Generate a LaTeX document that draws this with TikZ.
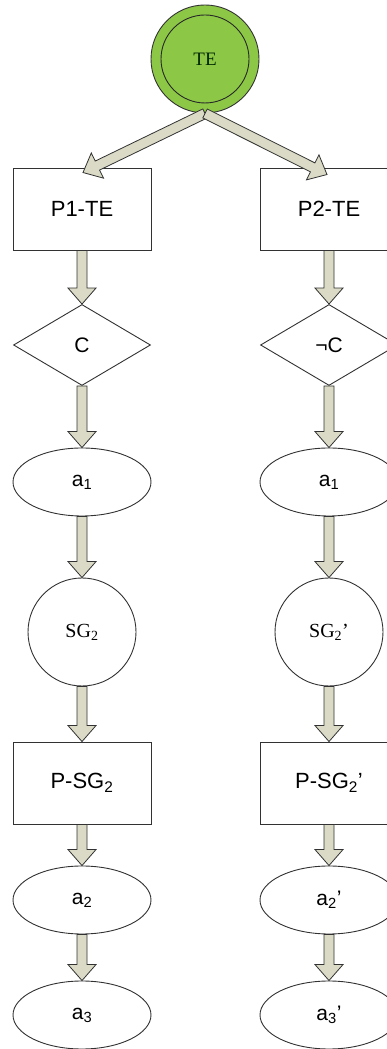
\documentclass[tikz,border=0pt]{standalone}
\usepackage{fontspec}
\setmainfont{Liberation Serif}
\setsansfont{Liberation Sans}
\usetikzlibrary{shapes.geometric,calc}
\definecolor{tegreen}{RGB}{140,200,70}
\definecolor{arrfill}{RGB}{218,218,198}
\definecolor{edgec}{RGB}{50,50,50}
\newcommand\blockarrow[2]{%
  \path[blockarr] let \p1=(#1), \p2=(#2),
    \n1={atan2(\y2-\y1,\x2-\x1)}, \n2={veclen(\x2-\x1,\y2-\y1)} in
    [shift={(\p1)}, rotate=\n1]
    (0,5) -- ({\n2-16},5) -- ({\n2-16},14) -- (\n2,0) -- ({\n2-16},-14)
    -- ({\n2-16},-5) -- (0,-5) -- cycle;}
\begin{document}
\begin{tikzpicture}[x=1pt,y=1pt,
  every node/.style={inner sep=0pt},
  boxnode/.style={draw=edgec, line width=0.9pt, fill=white, rectangle,
    minimum width=138pt, minimum height=82pt,
    font=\sffamily\fontsize{22}{26}\selectfont},
  condnode/.style={draw=edgec, line width=0.9pt, fill=white, diamond,
    minimum width=137pt, minimum height=81pt,
    font=\sffamily\fontsize{21}{25}\selectfont},
  actnode/.style={draw=edgec, line width=0.9pt, fill=white, ellipse,
    minimum width=138pt, minimum height=68pt,
    font=\sffamily\fontsize{21}{25}\selectfont},
  goalnode/.style={draw=edgec, line width=0.9pt, fill=white, circle,
    minimum size=108pt, font=\fontsize{20}{24}\selectfont},
  blockarr/.style={draw=edgec, line width=0.8pt, fill=arrfill, line join=miter}
]
\useasboundingbox (0,0) rectangle (387,1049);
\clip (0,0) rectangle (387,1049);
% top goal
\node[circle, draw=edgec, line width=0.9pt, fill=tegreen, minimum size=108pt] (te) at (205,990) {};
\node[circle, draw=edgec!80!black, line width=0.9pt, minimum size=88pt,
  font=\fontsize{19}{23}\selectfont, text=black!85!green] (tein) at (205,990) {TE};
% left column
\node[boxnode] (p1) at (82,840) {P1-TE};
\node[condnode] (c1) at (82,704) {C};
\node[actnode] (a1l) at (82,567) {a\textsubscript{1}};
\node[goalnode] (sg1) at (82,417) {SG\textsubscript{2}};
\node[boxnode] (psg1) at (82,266) {P-SG\textsubscript{2}};
\node[actnode] (a2l) at (82,149) {a\textsubscript{2}};
\node[actnode] (a3l) at (82,34) {a\textsubscript{3}};
% right column
\node[boxnode] (p2) at (329,840) {P2-TE};
\node[condnode] (c2) at (329,704) {¬C};
\node[actnode] (a1r) at (329,567) {a\textsubscript{1}};
\node[goalnode] (sg2) at (329,417) {SG\textsubscript{2}'};
\node[boxnode] (psg2) at (329,266) {P-SG\textsubscript{2}'};
\node[actnode] (a2r) at (329,149) {a\textsubscript{2}'};
\node[actnode] (a3r) at (329,34) {a\textsubscript{3}'};
% arrows
\blockarrow{te.south}{$(p1.north)+(1,-5)$}
\blockarrow{te.south}{$(p2.north)+(-2,-7)$}
\blockarrow{p1.south}{c1.north}
\blockarrow{c1.south}{a1l.north}
\blockarrow{a1l.south}{sg1.north}
\blockarrow{sg1.south}{psg1.north}
\blockarrow{psg1.south}{a2l.north}
\blockarrow{a2l.south}{a3l.north}
\blockarrow{p2.south}{c2.north}
\blockarrow{c2.south}{a1r.north}
\blockarrow{a1r.south}{sg2.north}
\blockarrow{sg2.south}{psg2.north}
\blockarrow{psg2.south}{a2r.north}
\blockarrow{a2r.south}{a3r.north}
\end{tikzpicture}
\end{document}
